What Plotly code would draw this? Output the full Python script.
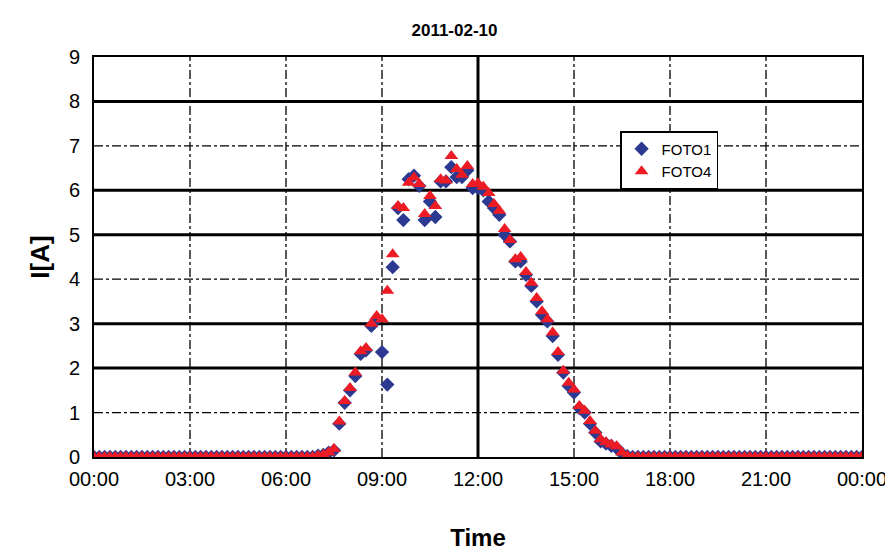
import plotly.graph_objects as go

# 10-minute samples, values between 07:00 and 17:00 (zeros elsewhere)
foto4_day = [0.03, 0.05, 0.1, 0.18, 0.8, 1.26, 1.55, 1.9, 2.38, 2.45, 3.0, 3.17, 3.1, 3.74,
             4.56, 5.65, 5.6, 6.17, 6.29, 6.14, 5.47, 5.87, 5.65, 6.25, 6.22, 6.77, 6.48,
             6.35, 6.55, 6.14, 6.16, 6.08, 5.94, 5.69, 5.54, 5.13, 4.88, 4.45, 4.5, 4.16,
             3.92, 3.58, 3.28, 3.1, 2.8, 2.36, 1.94, 1.67, 1.52, 1.15, 1.04, 0.81, 0.59,
             0.4, 0.33, 0.28, 0.24, 0.1, 0.02, 0.0, 0.0]
foto1_day = [0.03, 0.05, 0.1, 0.15, 0.75, 1.22, 1.5, 1.82, 2.32, 2.4, 2.95, 3.1, 2.36, 1.63,
             4.27, 5.6, 5.33, 6.25, 6.33, 6.1, 5.33, 5.75, 5.4, 6.2, 6.2, 6.52, 6.3,
             6.3, 6.45, 6.05, 6.05, 6.0, 5.75, 5.6, 5.45, 5.0, 4.85, 4.4, 4.4, 4.1,
             3.85, 3.5, 3.2, 3.05, 2.72, 2.3, 1.9, 1.6, 1.45, 1.1, 1.0, 0.75, 0.55,
             0.35, 0.3, 0.25, 0.2, 0.08, 0.02, 0.0, 0.0]
start = 42  # index of 07:00
n = 145
hours = [i / 6 for i in range(n)]
foto1 = [0.0] * n
foto4 = [0.0] * n
foto1[start:start + len(foto1_day)] = foto1_day
foto4[start:start + len(foto4_day)] = foto4_day

tick_vals = [0, 3, 6, 9, 12, 15, 18, 21, 24]
tick_text = ["00:00", "03:00", "06:00", "09:00", "12:00", "15:00", "18:00", "21:00", "00:00"]

fig = go.Figure()
fig.add_trace(go.Scatter(x=hours, y=foto1, mode="markers", name="FOTO1",
                         marker=dict(symbol="diamond", size=11, color="#2b3990")))
fig.add_trace(go.Scatter(x=hours, y=foto4, mode="markers", name="FOTO4",
                         marker=dict(symbol="triangle-up", size=12, color="#ed1c24")))

shapes = []
for v in range(1, 9):
    solid = v % 3 != 1
    shapes.append(dict(type="line", xref="paper", x0=0, x1=1, yref="y", y0=v, y1=v,
                       line=dict(color="black", width=3 if solid else 1.3,
                                 dash="solid" if solid else "dashdot"), layer="below"))
for h in [3, 6, 9, 12, 15, 18, 21]:
    solid = h == 12
    shapes.append(dict(type="line", yref="paper", y0=0, y1=1, xref="x", x0=h, x1=h,
                       line=dict(color="black", width=3 if solid else 1.3,
                                 dash="solid" if solid else "dashdot"), layer="below"))

fig.update_layout(
    width=893, height=552, template="none",
    paper_bgcolor="white", plot_bgcolor="white",
    margin=dict(l=86, r=39, t=49, b=103),
    font=dict(family="Liberation Sans, Arial", size=20, color="black"),
    title=dict(text="<b>2011-02-10</b>", x=0.5, xanchor="center", y=0.97, yanchor="top",
               font=dict(size=17)),
    shapes=shapes,
    xaxis=dict(range=[0, 24], tickvals=tick_vals, ticktext=tick_text, showgrid=False,
               zeroline=False, showline=True, linecolor="black", linewidth=2, mirror=True,
               ticks="", ticklabelstandoff=3,
               title=dict(text="<b>Time</b>", font=dict(size=24), standoff=40)),
    yaxis=dict(range=[0, 9], dtick=1, showgrid=False, zeroline=False, showline=True,
               linecolor="black", linewidth=2, mirror=True, ticks="", ticklabelstandoff=8,
               title=dict(text="<b>I[A]</b>", font=dict(size=26), standoff=12)),
    legend=dict(x=0.685, y=0.815, xanchor="left", yanchor="top", bgcolor="white",
                bordercolor="black", borderwidth=1.5, font=dict(size=15),
                tracegroupgap=22),
    showlegend=True,
)
fig.write_html("out.html")
